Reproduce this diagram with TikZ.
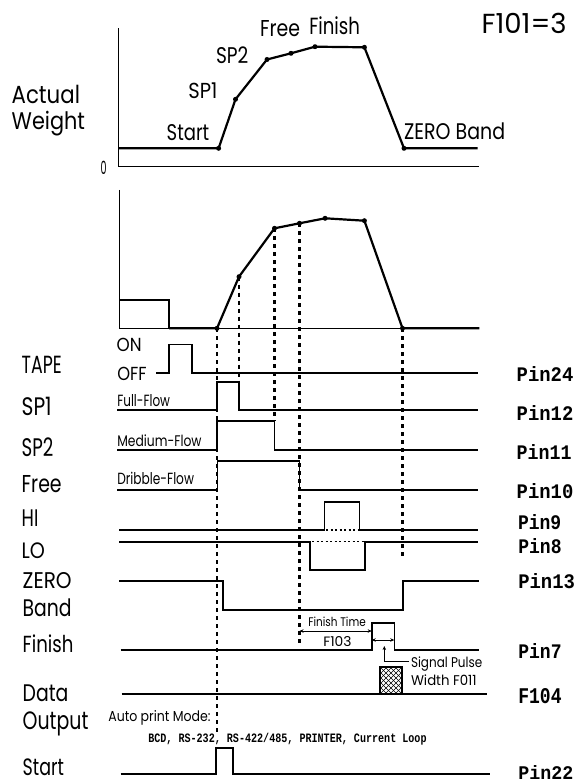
\documentclass[tikz,border=0pt]{standalone}
\usepackage{fontspec}
\setmainfont{Poppins}
\newfontfamily\pinfont{Liberation Mono}
\usetikzlibrary{arrows.meta}
\newcommand\fitbox[3]{\resizebox{#1pt}{#2pt}{#3}}
\newcommand\pintxt[1]{{\pinfont\bfseries #1}}
\begin{document}
\begin{tikzpicture}[x=1pt,y=-1pt,
  lbl/.style={anchor=base west, inner sep=0pt, outer sep=0pt},
  axisline/.style={line width=1.5pt},
  curveline/.style={line width=2.2pt, line join=round},
  sig/.style={line width=1.6pt, line join=miter},
  vdots/.style={line width=2.2pt, dash pattern=on 4pt off 4pt},
  hdots/.style={line width=1.3pt, dash pattern=on 2pt off 2.5pt},
  dot/.style={circle, fill, inner sep=0pt, minimum size=5pt},
  dim/.style={line width=0.9pt, {Stealth[length=4pt,width=3.5pt]}-{Stealth[length=4pt,width=3.5pt]}}]
\fill[white] (0,0) rectangle (576,783);
\useasboundingbox (0,0) rectangle (576,783);

% ---------- top graph ----------
\draw[axisline] (118.7,28.3) -- (118.7,166.7) -- (479.4,166.7);
\node[dot] (t0) at (218.6,148.3) {};
\node[dot] (t1) at (235.5,99.3) {};
\node[dot] (t2) at (267,59.5) {};
\node[dot] (t3) at (291,53.3) {};
\node[dot] (t4) at (315,46.7) {};
\node[dot] (t5) at (364.4,47.3) {};
\node[dot] (t6) at (404,148.3) {};
\draw[curveline] (118.7,148.3) -- (t0.center) -- (t1.center) -- (t2.center) -- (t3.center) -- (t4.center) -- (t5.center) -- (t6.center) -- (477.6,148.3);

\node[lbl] (actual) at (11.7,103.3) {\fitbox{68.3}{18.3}{Actual}};
\node[lbl] (weight) at (11.7,130) {\fitbox{73.3}{18.3}{Weight}};
\node[lbl] (zero0) at (100.7,175) {\fitbox{6}{13.3}{0}};
\node[lbl] (tstart) at (166.7,141) {\fitbox{42.6}{16}{Start}};
\node[lbl] (tsp1) at (188.3,98.3) {\fitbox{29}{15.7}{SP1}};
\node[lbl] (tsp2) at (216,63.3) {\fitbox{32.3}{16.7}{SP2}};
\node[lbl] (tfree) at (260,37) {\fitbox{40}{16}{Free}};
\node[lbl] (tfinish) at (309.3,34.3) {\fitbox{50.7}{17.8}{Finish}};
\node[lbl] (tzero) at (404.1,140) {\fitbox{101}{16.7}{ZERO Band}};
\node[lbl] (f101) at (481.7,33.3) {\fitbox{85}{20.3}{F101=3}};

% ---------- second graph ----------
\draw[axisline] (119.4,190) -- (119.4,328.3) -- (479.4,328.3);
\draw[axisline] (119.4,300) -- (169,300) -- (169,328.3);
\node[dot] (g0) at (217,328.3) {};
\node[dot] (g1) at (239,276.7) {};
\node[dot] (g2) at (274.5,228.3) {};
\node[dot] (g3) at (299.5,223.3) {};
\node[dot] (g4) at (325.1,218.3) {};
\node[dot] (g5) at (364.4,220.7) {};
\node[dot] (g6) at (402.5,328.3) {};
\draw[curveline] (169,328.3) -- (g0.center) -- (g1.center) -- (g2.center) -- (g3.center) -- (g4.center) -- (g5.center) -- (g6.center) -- (479.4,328.3);

% dotted guides
\coordinate (e0) at (217,735);
\coordinate (e1) at (239,381.7);
\coordinate (e2) at (274.5,420.7);
\coordinate (e3) at (299.5,645);
\coordinate (e6) at (402.5,560);
\draw[vdots] (g0.center) -- (e0);
\draw[vdots] (g1.center) -- (e1);
\draw[vdots] (g2.center) -- (e2);
\draw[vdots] (g3.center) -- (e3);
\draw[vdots] (g6.center) -- (e6);

% ---------- timing rows ----------
% TAPE
\draw[sig] (156,372.7) -- (169,372.7) -- (169,344.3) -- (191.7,344.3) -- (191.7,372.7) -- (478.3,372.7);
% SP1
\draw[sig] (117.3,410) -- (217,410) -- (217,381.7) -- (239,381.7) -- (239,410) -- (478.3,410);
% SP2
\draw[sig] (117.3,450) -- (217,450) -- (217,420.7) -- (274.5,420.7) -- (274.5,450) -- (478.3,450);
% Free
\draw[sig] (117.3,490) -- (217.5,490) -- (217.5,461) -- (299.5,461) -- (299.5,490) -- (478.3,490);
% HI
\draw[sig] (119.3,530) -- (324.3,530) -- (324.3,501.7) -- (359.3,501.7) -- (359.3,530) -- (478.3,530);
\draw[hdots] (326,530) -- (358,530);
% LO
\draw[sig] (119.3,541.7) -- (310,541.7) -- (310,570) -- (365,570) -- (365,541.7) -- (478.3,541.7);
\draw[hdots] (312,541.7) -- (364,541.7);
% ZERO Band
\draw[sig] (119.3,581) -- (222.7,581) -- (222.7,610) -- (402.7,610) -- (402.7,581) -- (479.3,581);
% Finish
\draw[sig] (120.7,650) -- (371.7,650) -- (371.7,622.7) -- (394.3,622.7) -- (394.3,650) -- (479,650);
% Data output
\draw[sig] (121.7,694) -- (486.7,694);
\begin{scope}
\clip (380,667) rectangle (402,694);
\foreach \i in {-35,-30,...,25} {
  \draw[line width=0.6pt] ({380+\i},667) -- ++(27,27);
  \draw[line width=0.6pt] ({380+\i},694) -- ++(27,-27);
}
\end{scope}
\draw[line width=1.2pt] (380,694) -- (380,667) -- (402,667) -- (402,694);
% Start
\draw[sig] (120.7,774) -- (216,774) -- (216,747.7) -- (232.7,747.7) -- (232.7,774) -- (490,774);

% annotations
\coordinate (ft0) at (299.5,631);
\coordinate (ft1) at (371.7,631);
\coordinate (pw0) at (371.7,640);
\coordinate (pw1) at (394.3,640);
\coordinate (sp0) at (409,661.7);
\coordinate (sp1) at (384.3,661.7);
\coordinate (sp2) at (384.3,646);
\draw[dim] (ft0) -- (ft1);
\draw[dim] (pw0) -- (pw1);
\draw[line width=0.9pt, -{Stealth[length=4pt,width=3.5pt]}] (sp0) -- (sp1) -- (sp2);

% row labels
\node[lbl] (tape) at (21.7,373.3) {\fitbox{40}{17.3}{TAPE}};
\node[lbl] (on) at (116.7,351.7) {\fitbox{25}{13.3}{ON}};
\node[lbl] (off) at (117.3,380) {\fitbox{29.3}{13.3}{OFF}};
\node[lbl] (lsp1) at (21.7,415) {\fitbox{30}{18.3}{SP1}};
\node[lbl] (full) at (117.3,406) {\fitbox{52.7}{12}{Full-Flow}};
\node[lbl] (lsp2) at (21.7,456) {\fitbox{31.7}{18.7}{SP2}};
\node[lbl] (medium) at (117.3,446.7) {\fitbox{84.3}{11.7}{Medium-Flow}};
\node[lbl] (lfree) at (21.7,492.7) {\fitbox{40}{17}{Free}};
\node[lbl] (dribble) at (117.3,484) {\fitbox{76.7}{12.3}{Dribble-Flow}};
\node[lbl] (lhi) at (21.7,526.7) {\fitbox{16.7}{16.7}{HI}};
\node[lbl] (llo) at (21.7,558.3) {\fitbox{23.3}{15.7}{LO}};
\node[lbl] (lzero) at (22.7,588.3) {\fitbox{49}{16}{ZERO}};
\node[lbl] (lband) at (22.7,616) {\fitbox{49}{17.7}{Band}};
\node[lbl] (lfinish) at (22.7,652.7) {\fitbox{50.7}{17.7}{Finish}};
\node[lbl] (ldata) at (22.7,701.7) {\fitbox{45.7}{16.7}{Data}};
\node[lbl] (loutput) at (22.7,729.3) {\fitbox{65.7}{17.7}{Output}};
\node[lbl] (auto) at (108.3,721.7) {\fitbox{102.3}{11}{Auto print Mode:}};
\node[lbl] (bcd) at (148.3,742.7) {\fitbox{278.3}{9.3}{\pintxt{BCD, RS-232, RS-422/485, PRINTER, Current Loop}}};
\node[lbl] (lstart) at (22.7,775) {\fitbox{41.3}{16.7}{Start}};
\node[lbl] (ftime) at (308.3,626.5) {\fitbox{57.5}{9.5}{Finish Time}};
\node[lbl] (f103) at (323.3,646) {\fitbox{28.3}{10}{F103}};
\node[lbl] (signal) at (411,667.3) {\fitbox{71.3}{10.7}{Signal Pulse}};
\node[lbl] (widthf) at (411,685.7) {\fitbox{65.7}{10.7}{Width F011}};

% pin labels
\node[lbl] (p24) at (516.7,381.7) {\fitbox{56.7}{15}{\pintxt{Pin24}}};
\node[lbl] (p12) at (516.7,420) {\fitbox{56.7}{15}{\pintxt{Pin12}}};
\node[lbl] (p11) at (516.7,459.3) {\fitbox{55}{15}{\pintxt{Pin11}}};
\node[lbl] (p10) at (516.7,498.3) {\fitbox{56.7}{15}{\pintxt{Pin10}}};
\node[lbl] (p9) at (518,529) {\fitbox{43.3}{15}{\pintxt{Pin9}}};
\node[lbl] (p8) at (518.3,553.3) {\fitbox{43.3}{15}{\pintxt{Pin8}}};
\node[lbl] (p13) at (518.3,588.3) {\fitbox{56.7}{15}{\pintxt{Pin13}}};
\node[lbl] (p7) at (518.3,658.3) {\fitbox{43.3}{15}{\pintxt{Pin7}}};
\node[lbl] (f104) at (518.3,703.3) {\fitbox{43.3}{15}{\pintxt{F104}}};
\node[lbl] (p22) at (518.3,779) {\fitbox{55}{14}{\pintxt{Pin22}}};
\end{tikzpicture}
\end{document}
